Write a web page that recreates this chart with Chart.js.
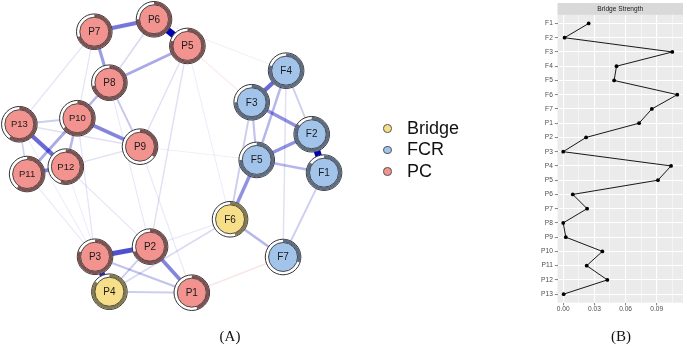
<!DOCTYPE html>
<html>
<head>
<meta charset="utf-8">
<script src="https://cdn.jsdelivr.net/npm/chart.js@4.4.0/dist/chart.umd.min.js"></script>
<style>
  html, body { margin: 0; padding: 0; background: #fff; }
  #wrap { position: relative; width: 687px; height: 346px; overflow: hidden; font-family: "Liberation Sans", Arial, sans-serif; }
  #netBox { position: absolute; left: 0; top: 0; width: 540px; height: 346px; }
  #bsBox { position: absolute; left: 540px; top: 0; width: 147px; height: 346px; }
  .tag { position: absolute; top: 329px; font-family: "Liberation Serif", "Times New Roman", serif; font-size: 15px; line-height: 15px; color: #111; transform: translateX(-50%); }
  #legend { position: absolute; left: 383px; top: 117.5px; }
  .legend-row { display: flex; align-items: center; height: 21.7px; line-height: 21.7px; font-size: 18px; color: #111; }
  .legend-dot { width: 8.5px; height: 8.5px; border-radius: 50%; border: 1px solid #555; box-sizing: border-box; margin-right: 15.5px; }
</style>
</head>
<body>
<div id="wrap">
  <div id="netBox"><canvas id="network"></canvas></div>
  <div id="legend"></div>
  <div id="bsBox"><canvas id="bridge"></canvas></div>
  <div class="tag" style="left:230px">(A)</div>
  <div class="tag" style="left:621px">(B)</div>
</div>
<script>
// ---- network (A) ----
const netNodes = ['P1', 'P2', 'P3', 'P4', 'P5', 'P6', 'P7', 'P8', 'P9', 'P10', 'P11', 'P12', 'P13',
                  'F1', 'F2', 'F3', 'F4', 'F5', 'F6', 'F7'];
const nodeGroup = ['PC', 'PC', 'PC', 'Bridge', 'PC', 'PC', 'PC', 'PC', 'PC', 'PC', 'PC', 'PC', 'PC',
                   'FCR', 'FCR', 'FCR', 'FCR', 'FCR', 'Bridge', 'FCR'];
// layout coordinates (qgraph style, -1..1)
const nodeX = [0.132, -0.142, -0.503, -0.409, 0.103, -0.116, -0.508, -0.409, -0.208, -0.619, -0.949, -0.695, -1.0,
               1.0, 0.919, 0.525, 0.751, 0.558, 0.383, 0.731];
const nodeY = [-1.0, -0.663, -0.737, -0.993, 0.805, 1.0, 0.909, 0.536, 0.068, 0.276, -0.132, -0.078, 0.232,
               -0.122, 0.159, 0.393, 0.624, -0.029, -0.463, -0.739];
// predictability shown as the pie ring
const nodePie = [0.45, 0.7, 0.8, 0.85, 0.8, 0.75, 0.7, 0.72, 0.35, 0.65, 0.6, 0.55, 0.6,
                 0.85, 0.85, 0.75, 0.8, 0.75, 0.45, 0.3];

const edgeFrom = ['P5', 'F1', 'P3', 'P3', 'P13', 'F3', 'P6', 'P11', 'P10', 'P2', 'F2', 'F2', 'F5', 'P7', 'P8',
                  'P10', 'F6', 'F5', 'F4', 'P10', 'P8', 'F3', 'P8', 'P3', 'P4', 'P4', 'F4', 'F3', 'F1', 'P13',
                  'P13', 'P8', 'P4', 'P13', 'P12', 'P5', 'P5', 'F4', 'P10', 'P12', 'P7', 'P11', 'P9', 'P2',
                  'P5', 'P7', 'P1', 'P5', 'P6', 'P9', 'P12', 'P8', 'P13'];
const edgeTo = ['P6', 'F2', 'P4', 'P2', 'P12', 'F4', 'P7', 'P12', 'P9', 'P1', 'F5', 'F3', 'F6', 'P8', 'P5',
                'P11', 'F7', 'F1', 'F5', 'P12', 'P10', 'F5', 'P9', 'P1', 'P1', 'P2', 'F2', 'F6', 'F7', 'P10',
                'P11', 'P6', 'F6', 'P9', 'P9', 'P9', 'P2', 'F7', 'P3', 'P2', 'P10', 'P3', 'P1', 'F6',
                'F6', 'P13', 'F7', 'F3', 'F4', 'F5', 'P4', 'P2', 'P3'];
const edgeWeight = [1.0, 1.0, 0.85, 0.7, 0.6, 0.6, 0.55, 0.5, 0.5, 0.5, 0.45, 0.45, 0.45, 0.4, 0.35,
                    0.35, 0.3, 0.3, 0.3, 0.3, 0.3, 0.25, 0.22, 0.25, 0.2, 0.2, 0.2, 0.2, 0.2, 0.2,
                    0.18, 0.15, 0.15, 0.12, 0.12, 0.12, 0.12, 0.12, 0.1, 0.1, 0.1, 0.08, 0.08, 0.08,
                    0.06, 0.1, -0.12, -0.08, 0.05, 0.05, 0.06, 0.08, 0.06];

const legendGroups = ['Bridge', 'FCR', 'PC'];

// ---- bridge strength (B) ----
const bsNodes = ['F1', 'F2', 'F3', 'F4', 'F5', 'F6', 'F7', 'P1', 'P2', 'P3', 'P4', 'P5', 'P6',
                 'P7', 'P8', 'P9', 'P10', 'P11', 'P12', 'P13'];
const bsValues = [0.0245, 0.0013, 0.105, 0.0513, 0.049, 0.1098, 0.0853, 0.073, 0.022, 0.0, 0.1038, 0.0912, 0.0092,
                  0.023, 0.0, 0.0025, 0.0377, 0.0226, 0.0425, 0.0004];
const bsMajorTicks = [0, 0.03, 0.06, 0.09];
const bsMinorTicks = [0.015, 0.045, 0.075, 0.105];

const groupFill = { Bridge: '#F6DF88', FCR: '#A3C4EA', PC: '#F3938F' };
const groupPie = { Bridge: '#857a4c', FCR: '#5c6c84', PC: '#7e5150' };

function edgeColor(w) {
    const a = Math.min(1, 0.03 + 0.97 * Math.pow(Math.abs(w), 1.1));
    return w >= 0 ? `rgba(0, 0, 185, ${a})` : `rgba(215, 40, 40, ${a})`;
}

const edgeDatasets = edgeFrom.map((from, i) => {
    const a = netNodes.indexOf(from);
    const b = netNodes.indexOf(edgeTo[i]);
    const w = edgeWeight[i];
    return {
        data: [{ x: nodeX[a], y: nodeY[a] }, { x: nodeX[b], y: nodeY[b] }],
        showLine: true,
        borderColor: edgeColor(w),
        borderWidth: 0.7 + 6 * Math.abs(w),
        pointRadius: 0,
        order: 100 - Math.round(Math.abs(w) * 90)
    };
});

const nodePoints = netNodes.map((n, i) => ({ x: nodeX[i], y: nodeY[i] }));

const nodeDecor = {
    id: 'nodeDecor',
    afterDatasetDraw(chart, args) {
        if (args.meta.order !== 1) return;
        const { ctx, scales: { x, y } } = chart;
        ctx.save();
        netNodes.forEach((name, i) => {
            const px = x.getPixelForValue(nodeX[i]);
            const py = y.getPixelForValue(nodeY[i]);
            const start = -Math.PI / 2;
            ctx.beginPath();
            ctx.arc(px, py, 16, start, start + 2 * Math.PI * nodePie[i]);
            ctx.strokeStyle = groupPie[nodeGroup[i]];
            ctx.lineWidth = 3;
            ctx.stroke();
        });
        ctx.restore();
    },
    afterDatasetsDraw(chart) {
        const { ctx, scales: { x, y } } = chart;
        ctx.save();
        ctx.fillStyle = '#1a1a1a';
        ctx.textAlign = 'center';
        ctx.textBaseline = 'middle';
        netNodes.forEach((name, i) => {
            ctx.font = (name.length > 2 ? '9.5px' : '10px') + ' "Liberation Sans", Arial, sans-serif';
            ctx.fillText(name, x.getPixelForValue(nodeX[i]), y.getPixelForValue(nodeY[i]) + 0.5);
        });
        ctx.restore();
    }
};

new Chart(document.getElementById('network'), {
    type: 'scatter',
    data: {
        datasets: [
            {
                data: nodePoints,
                pointRadius: 14.5,
                pointBackgroundColor: nodeGroup.map(g => groupFill[g]),
                pointBorderColor: '#4a4a4a',
                pointBorderWidth: 1,
                order: 0
            },
            {
                data: nodePoints,
                pointRadius: 17.8,
                pointBackgroundColor: '#ffffff',
                pointBorderColor: '#333333',
                pointBorderWidth: 1,
                order: 1
            },
            ...edgeDatasets
        ]
    },
    options: {
        responsive: true,
        maintainAspectRatio: false,
        animation: false,
        events: [],
        layout: { padding: 0, autoPadding: false },
        plugins: { legend: { display: false }, tooltip: { enabled: false } },
        scales: {
            x: { type: 'linear', display: false, min: -1.127, max: 2.4175 },
            y: { type: 'linear', display: false, min: -1.390, max: 1.141 }
        }
    },
    plugins: [nodeDecor]
});

// legend for the node groups
const legendBox = document.getElementById('legend');
legendGroups.forEach(g => {
    const row = document.createElement('div');
    row.className = 'legend-row';
    const dot = document.createElement('span');
    dot.className = 'legend-dot';
    dot.style.background = groupFill[g];
    row.appendChild(dot);
    row.appendChild(document.createTextNode(g));
    legendBox.appendChild(row);
});

// ---- bridge strength chart ----
const panelBackground = {
    id: 'panelBackground',
    beforeDraw(chart) {
        const { ctx, chartArea: a } = chart;
        const stripTop = chart.titleBlock ? chart.titleBlock.top : 3;
        ctx.save();
        ctx.fillStyle = '#D9D9D9';
        ctx.fillRect(a.left, stripTop, a.right - a.left, a.top - stripTop);
        ctx.fillStyle = '#EBEBEB';
        ctx.fillRect(a.left, a.top, a.right - a.left, a.bottom - a.top);
        ctx.restore();
    }
};

const smallFont = { family: '"Liberation Sans", Arial, sans-serif', size: 6.6 };

new Chart(document.getElementById('bridge'), {
    type: 'scatter',
    data: {
        datasets: [{
            data: bsValues.map((v, i) => ({ x: v, y: i })),
            showLine: true,
            borderColor: '#000000',
            borderWidth: 0.9,
            pointRadius: 1.9,
            pointBackgroundColor: '#000000',
            pointBorderWidth: 0
        }]
    },
    options: {
        responsive: true,
        maintainAspectRatio: false,
        animation: false,
        events: [],
        layout: { padding: { top: 3, right: 1.5, left: 0, bottom: 0 } },
        plugins: {
            legend: { display: false },
            tooltip: { enabled: false },
            title: {
                display: true,
                text: 'Bridge Strength',
                color: '#1A1A1A',
                fullSize: false,
                font: { ...smallFont, weight: 'normal' },
                padding: { top: 2, bottom: 2 }
            }
        },
        scales: {
            x: {
                type: 'linear',
                min: -0.0055,
                max: 0.1153,
                afterBuildTicks: scale => {
                    scale.ticks = [...bsMajorTicks, ...bsMinorTicks].sort((a, b) => a - b).map(v => ({ value: v }));
                },
                afterFit: scale => { scale.height = 43.3; },
                border: { display: false },
                grid: {
                    color: '#ffffff',
                    lineWidth: ctx => (ctx.tick && bsMajorTicks.includes(ctx.tick.value) ? 1.1 : 0.5),
                    tickColor: ctx => (ctx.tick && bsMajorTicks.includes(ctx.tick.value) ? '#333333' : 'rgba(0,0,0,0)'),
                    tickLength: 2.7,
                    tickWidth: 0.6
                },
                ticks: {
                    autoSkip: false,
                    maxRotation: 0,
                    padding: 0,
                    color: '#4D4D4D',
                    font: smallFont,
                    callback: value => (bsMajorTicks.includes(value) ? value.toFixed(2) : '')
                }
            },
            y: {
                type: 'linear',
                reverse: true,
                min: -0.6,
                max: bsNodes.length - 0.4,
                afterBuildTicks: scale => {
                    scale.ticks = bsNodes.map((n, i) => ({ value: i }));
                },
                afterFit: scale => { scale.width = 17.5; },
                border: { display: false },
                grid: {
                    color: '#ffffff',
                    lineWidth: 1.1,
                    tickColor: '#333333',
                    tickLength: 2.7,
                    tickWidth: 0.6
                },
                ticks: {
                    autoSkip: false,
                    padding: 2,
                    color: '#4D4D4D',
                    font: smallFont,
                    callback: value => bsNodes[value]
                }
            }
        }
    },
    plugins: [panelBackground]
});
</script>
</body>
</html>
